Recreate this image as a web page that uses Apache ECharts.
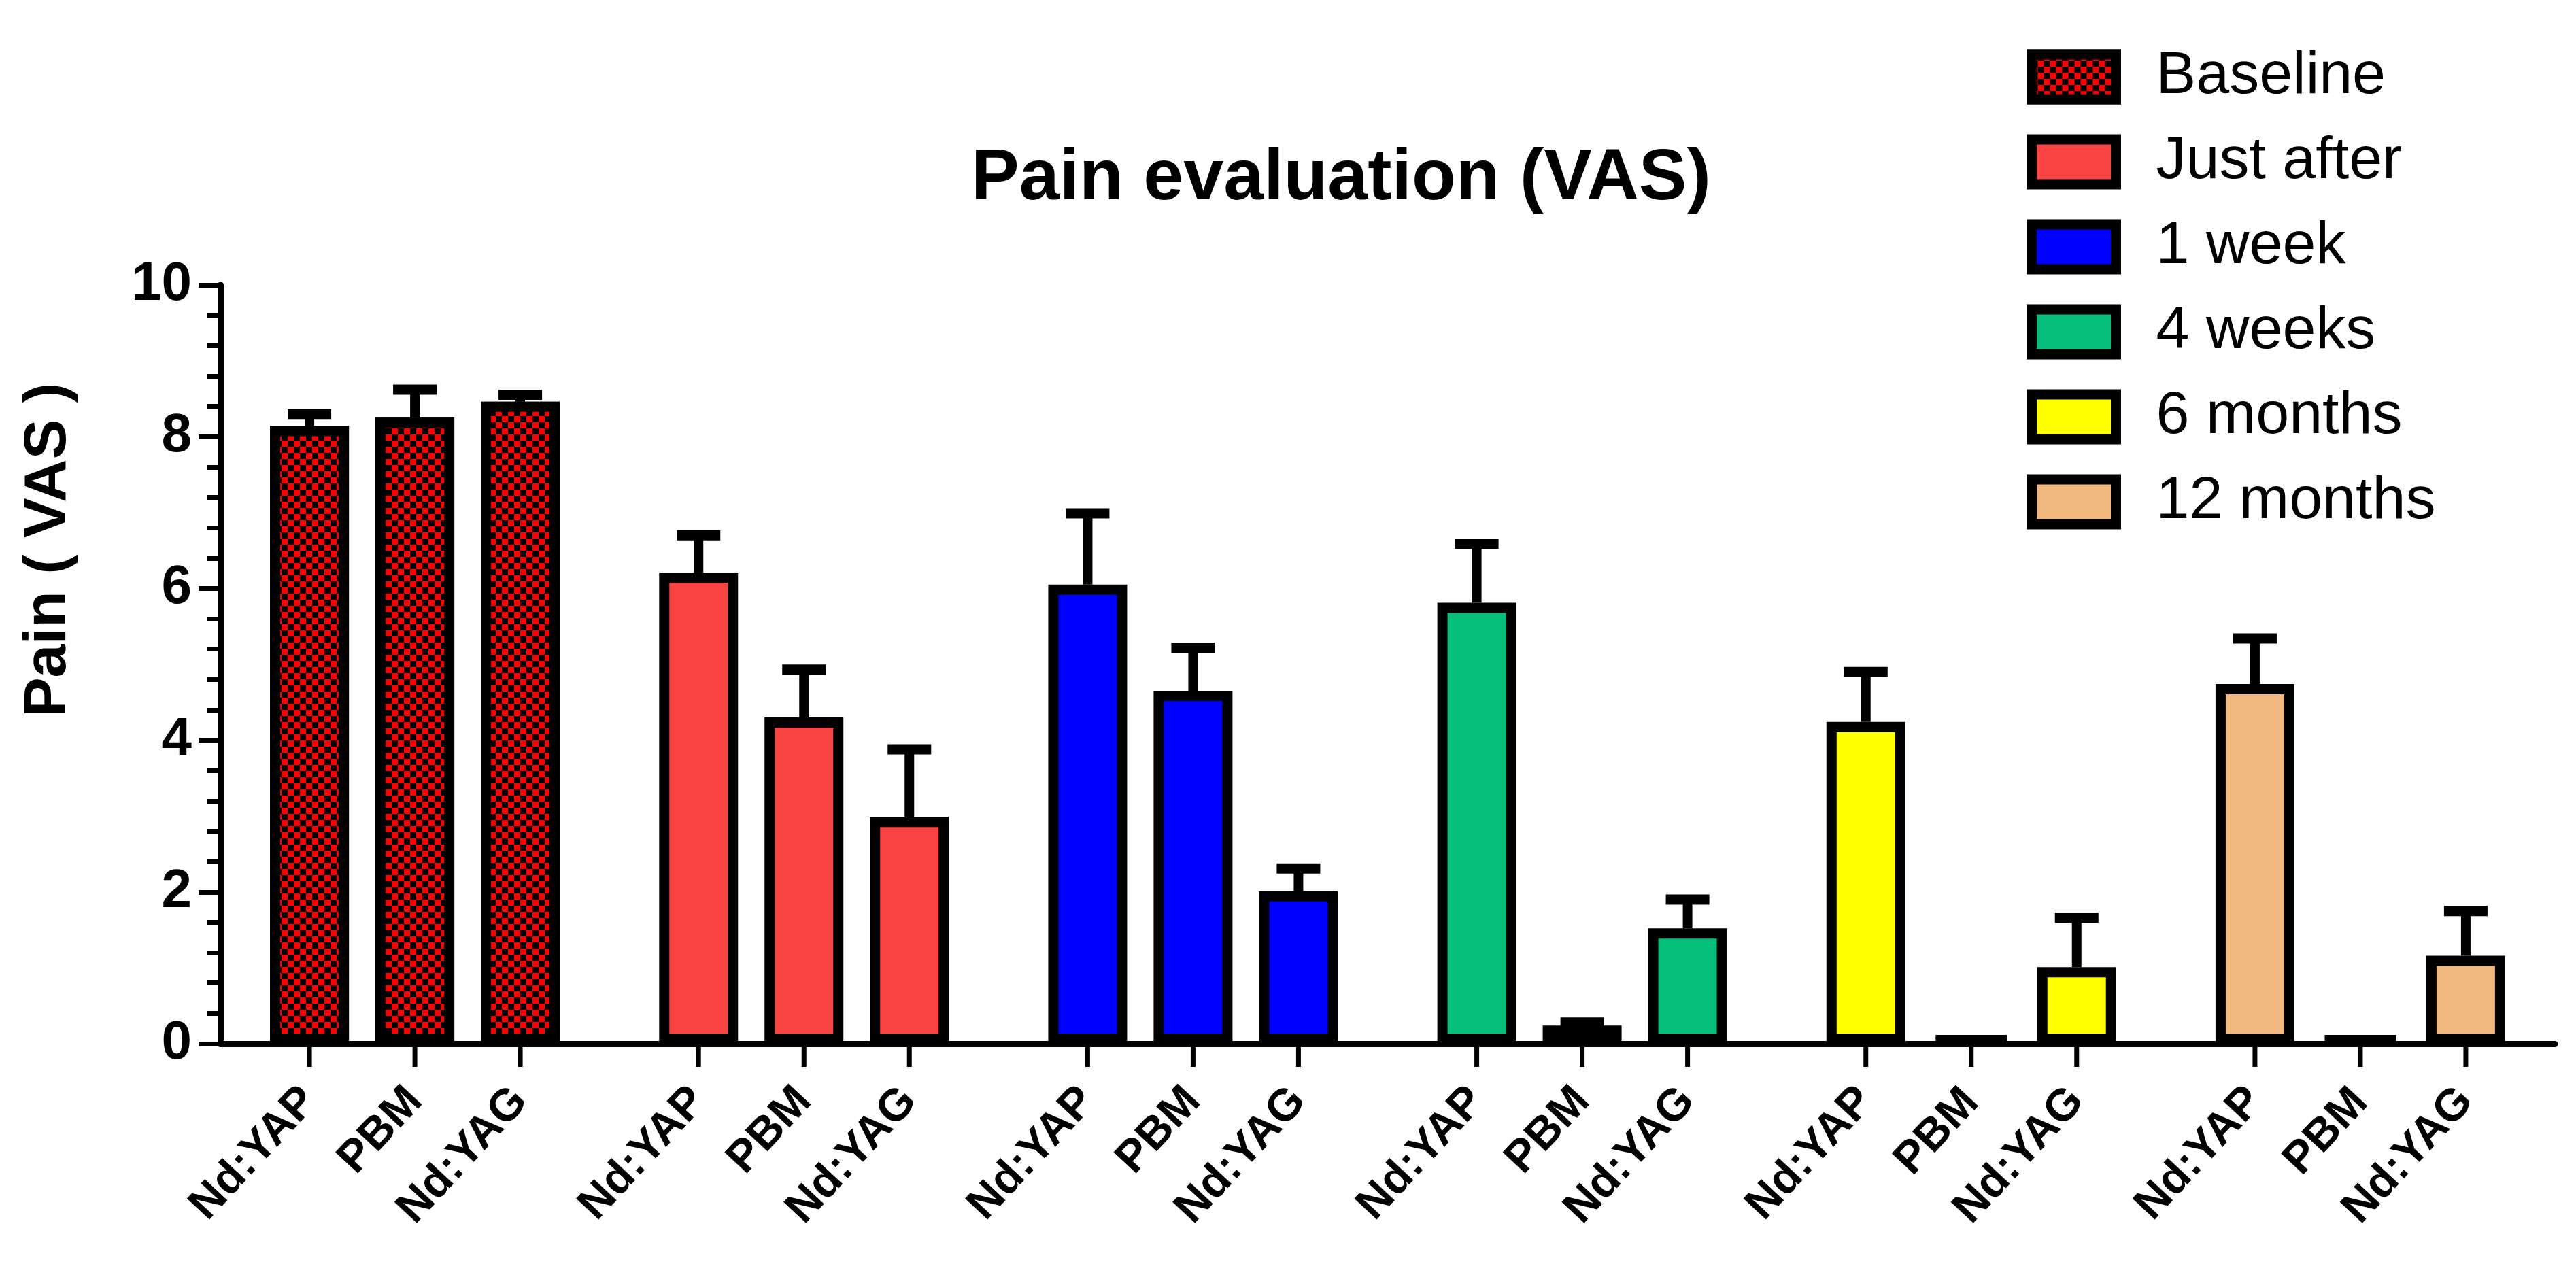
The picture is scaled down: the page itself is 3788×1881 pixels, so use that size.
<!DOCTYPE html>
<html>
<head>
<meta charset="utf-8">
<title>Pain evaluation (VAS)</title>
<script src="https://cdn.jsdelivr.net/npm/echarts/dist/echarts.min.js"></script>
<style>
	html,body{margin:0;padding:0;background:#fff;}
	#chart{width:3788px;height:1881px;}
</style>
</head>
<body>
<div id="chart"></div>
<script>
// time points (legend / groups) and lasers (bars inside a group)
var groups = ['Baseline', 'Just after', '1 week', '4 weeks', '6 months', '12 months'];
var lasers = ['Nd:YAP', 'PBM', 'Nd:YAG'];

// mean VAS per time point (read at the top edge of each bar)
var ndyapMean = [8.14, 6.21, 6.05, 5.81, 4.24, 4.74];
var pbmMean   = [8.25, 4.30, 4.65, 0.24, 0.10, 0.10];
var ndyagMean = [8.46, 2.99, 2.01, 1.52, 1.01, 1.16];

// upper error (SD) per time point
var ndyapSd = [0.16, 0.49, 0.94, 0.78, 0.66, 0.60];
var pbmSd   = [0.37, 0.63, 0.57, 0.04, 0, 0];
var ndyagSd = [0.09, 0.89, 0.30, 0.38, 0.65, 0.59];

var yTicks = [0, 2, 4, 6, 8, 10];

var groupColors = ['#ff0000', '#f94242', '#0000ff', '#06bf7a', '#ffff00', '#f0b77f'];

var FONT = '"Liberation Sans", Arial, sans-serif';
var BAR_W = 116;
var BAR_GAP = 39;
var BORDER = 15;

// checker pattern for baseline bars
var checker = {
	symbol: 'rect',
	symbolSize: 1,
	color: '#000',
	backgroundColor: '#ff0000',
	dashArrayX: [[9, 9], [0, 9, 9, 0]],
	dashArrayY: [9, 0],
	maxTileWidth: 72,
	maxTileHeight: 72
};

function itemStyleFor(g){
	var s = {color: groupColors[g]};
	if(g == 0){
		s.decal = checker;
	}
	return s;
}

var means = [ndyapMean, pbmMean, ndyagMean];
var sds = [ndyapSd, pbmSd, ndyagSd];

var chart = echarts.init(document.getElementById('chart'));

var series = [];
for(var i=0;i<lasers.length;i++){
	series.push({
		name: lasers[i],
		type: 'bar',
		barWidth: BAR_W,
		barGap: (BAR_GAP / BAR_W * 100).toFixed(1) + '%',
		itemStyle: {borderColor: '#000', borderWidth: BORDER},
		label: {
			show: true,
			position: 'bottom',
			distance: 74,
			rotate: 47,
			align: 'right',
			verticalAlign: 'middle',
			formatter: '{a}',
			fontFamily: FONT,
			fontSize: 66,
			fontWeight: 'bold',
			color: '#000'
		},
		data: means[i].map(function(v, g){
			return {value: v, itemStyle: itemStyleFor(g)};
		})
	});
}

// error bars + one tick per bar below the axis
var errData = [];
for(var g=0;g<groups.length;g++){
	for(var k=0;k<lasers.length;k++){
		errData.push([g, k, means[k][g], sds[k][g]]);
	}
}
series.push({
	type: 'custom',
	name: 'sd',
	data: errData,
	encode: {x: 0, y: 2},
	renderItem: function(params, api){
		var g = api.value(0), lane = api.value(1);
		var m = api.value(2), sd = api.value(3);
		var base = api.coord([g, 0]);
		var x = base[0] + (lane - 1) * (BAR_W + BAR_GAP);
		var kids = [{
			type: 'line',
			shape: {x1: x, y1: base[1] + 4, x2: x, y2: base[1] + 34},
			style: {stroke: '#000', lineWidth: 7}
		}];
		if(sd > 0){
			var mid = api.coord([g, m]);
			var top = api.coord([g, m + sd]);
			kids.push({
				type: 'line',
				shape: {x1: x, y1: mid[1], x2: x, y2: top[1]},
				style: {stroke: '#000', lineWidth: 14}
			});
			kids.push({
				type: 'line',
				shape: {x1: x - 32, y1: top[1], x2: x + 32, y2: top[1]},
				style: {stroke: '#000', lineWidth: 15}
			});
		}
		return {type: 'group', children: kids};
	},
	z: 3
});

// legend entries (empty series on a hidden axis so the bar layout is untouched)
for(var j=0;j<groups.length;j++){
	series.push({
		name: groups[j],
		type: 'bar',
		xAxisIndex: 1,
		yAxisIndex: 1,
		itemStyle: itemStyleFor(j),
		data: []
	});
}

var option = {
	backgroundColor: '#fff',
	animation: false,
	title: {
		text: 'Pain evaluation (VAS)',
		left: 1423,
		top: 206,
		textStyle: {fontFamily: FONT, fontSize: 106, fontWeight: 'bold', color: '#000'}
	},
	legend: {
		orient: 'vertical',
		left: 2980,
		top: 63,
		padding: 0,
		icon: 'rect',
		itemWidth: 124,
		itemHeight: 66,
		itemGap: 25,
		selectedMode: false,
		itemStyle: {borderColor: '#000', borderWidth: BORDER},
		textStyle: {fontFamily: FONT, fontSize: 88, lineHeight: 100, color: '#000', padding: [0, 0, 0, 54]},
		data: groups
	},
	graphic: [{
		type: 'text',
		x: 72,
		y: 809,
		rotation: Math.PI / 2,
		style: {
			text: 'Pain ( VAS )',
			font: 'bold 88px ' + FONT,
			fill: '#000',
			align: 'center',
			verticalAlign: 'middle',
			textAlign: 'center',
			textVerticalAlign: 'middle'
		}
	}],
	grid: {left: 324, right: 31, top: 419, bottom: 346, containLabel: false},
	xAxis: [{
		type: 'category',
		data: groups,
		axisLine: {lineStyle: {color: '#000', width: 9}},
		axisTick: {show: false},
		axisLabel: {show: false},
		splitLine: {show: false}
	}, {
		type: 'category',
		show: false,
		data: ['']
	}],
	yAxis: [{
		type: 'value',
		min: yTicks[0],
		max: yTicks[yTicks.length - 1],
		interval: yTicks[1] - yTicks[0],
		axisLine: {show: true, lineStyle: {color: '#000', width: 9}},
		axisTick: {show: true, length: 32, lineStyle: {color: '#000', width: 7}},
		minorTick: {show: true, splitNumber: 5, length: 20, lineStyle: {color: '#000', width: 7}},
		splitLine: {show: false},
		axisLabel: {margin: 42, fontFamily: FONT, fontSize: 80, fontWeight: 'bold', color: '#000'}
	}, {
		type: 'value',
		show: false
	}],
	series: series
};
chart.setOption(option);
</script>
</body>
</html>
